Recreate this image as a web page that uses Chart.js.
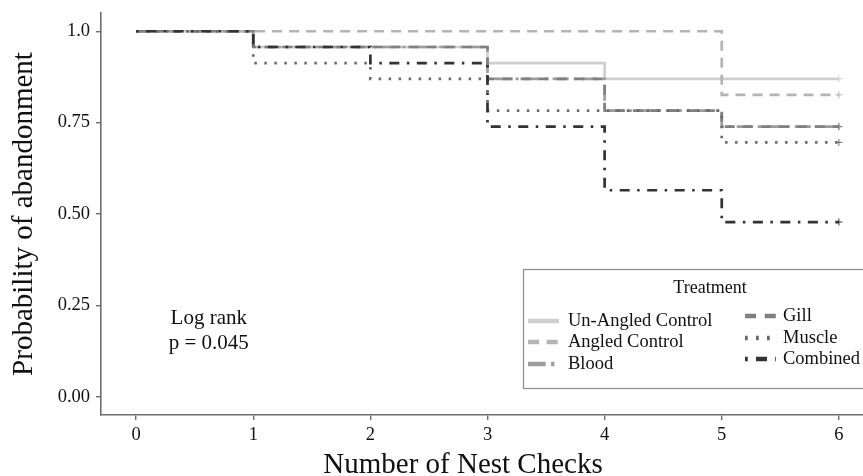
<!DOCTYPE html>
<html>
<head>
<meta charset="utf-8">
<script src="https://cdn.jsdelivr.net/npm/chart.js@4/dist/chart.umd.min.js"></script>
<style>
  html, body { margin:0; padding:0; background:#fff; }
  #wrap { width:863px; height:476px; overflow:hidden; position:relative; }
  canvas { display:block; }
</style>
</head>
<body>
<div id="wrap"><canvas id="km" width="880" height="476"></canvas></div>
<script>
// nest checks (x) and survival estimates per treatment
const checks = [0, 1, 2, 3, 4, 5, 6];
const unAngled = [1, 0.957, 0.957, 0.913, 0.870, 0.870, 0.870];
const angled   = [1, 1, 1, 1, 1, 0.826, 0.826];
const blood    = [1, 0.957, 0.957, 0.870, 0.783, 0.739, 0.739];
const gill     = [1, 0.957, 0.957, 0.870, 0.783, 0.739, 0.739];
const muscle   = [1, 0.913, 0.870, 0.783, 0.783, 0.696, 0.696];
const combined = [1, 0.957, 0.913, 0.739, 0.565, 0.478, 0.478];

const treatments = ["Un-Angled Control", "Angled Control", "Blood", "Gill", "Muscle", "Combined"];
const seriesVals = [unAngled, angled, blood, gill, muscle, combined];

const yTicks = [0, 0.25, 0.5, 0.75, 1];
const yLabels = ["0.00", "0.25", "0.50", "0.75", "1.0"];
const xTicks = [0, 1, 2, 3, 4, 5, 6];
const xTitle = "Number of Nest Checks";

// styles
const colors = ["#cfcfcf", "#b4b4b4", "#9c9c9c", "#808080", "#6a6a6a", "#333333"];
const dashes = [[], [10, 7], [16, 5, 3, 5], [10, 8], [2.5, 7.5], [2.5, 7.5, 10, 7.5]];
const serif = "'Liberation Serif', 'DejaVu Serif', serif";

const datasets = seriesVals.map((vals, i) => ({
  label: treatments[i],
  data: vals.map((v, j) => ({ x: checks[j], y: v })),
  stepped: "before",
  borderColor: colors[i],
  backgroundColor: colors[i],
  borderDash: dashes[i],
  borderWidth: 2.7,
  borderCapStyle: "butt",
  fill: false,
  pointStyle: "cross",
  pointRadius: vals.map((_, j) => j === vals.length - 1 ? 3.5 : 0),
  pointBorderWidth: 1,
  pointBorderColor: colors[i],
  pointHoverRadius: 0,
  order: seriesVals.length - i
}));

// text annotation, x title and legend, drawn on top
const annotate = {
  id: "annotate",
  afterDraw(chart) {
    const { ctx, scales } = chart;
    ctx.save();
    ctx.fillStyle = "#111";
    ctx.font = "21px " + serif;
    ctx.textAlign = "center";
    ctx.textBaseline = "middle";
    const ax = scales.x.getPixelForValue(0.62);
    ctx.fillText("Log rank", ax, scales.y.getPixelForValue(0.213));
    ctx.fillText("p = 0.045", ax, scales.y.getPixelForValue(0.147));

    ctx.font = "29px " + serif;
    ctx.fillText(xTitle, 463, 465);

    // legend box
    const bx = 523, by = 269, bw = 360, bh = 119;
    ctx.fillStyle = "#fff";
    ctx.fillRect(bx, by, bw, bh);
    ctx.strokeStyle = "#8c8c8c";
    ctx.lineWidth = 1.2;
    ctx.strokeRect(bx + 0.5, by + 0.5, bw, bh);
    ctx.fillStyle = "#111";
    ctx.font = "18px " + serif;
    ctx.fillText("Treatment", 710, 288);

    const cols = [{ kx: 528, tx: 568, ys: [321, 342, 364] }, { kx: 745, tx: 783, ys: [316, 338, 359] }];
    chart.data.datasets.forEach((ds, i) => {
      const c = cols[Math.floor(i / 3)];
      const y = c.ys[i % 3];
      ctx.beginPath();
      ctx.setLineDash(ds.borderDash.map(d => d * 1.1));
      ctx.lineCap = "butt";
      ctx.lineWidth = 4.5;
      ctx.strokeStyle = ds.borderColor;
      ctx.moveTo(c.kx, y);
      ctx.lineTo(c.kx + 31, y);
      ctx.stroke();
      ctx.setLineDash([]);
      ctx.textAlign = "left";
      ctx.fillStyle = "#111";
      ctx.font = "18.5px " + serif;
      ctx.fillText(ds.label, c.tx, y);
    });
    ctx.restore();
  }
};

new Chart(document.getElementById("km"), {
  type: "line",
  data: { datasets },
  plugins: [annotate],
  options: {
    responsive: false,
    animation: false,
    layout: { autoPadding: false, padding: { top: 13, right: 6, left: 0, bottom: 0 } },
    plugins: { legend: { display: false }, tooltip: { enabled: false } },
    scales: {
      x: {
        type: "linear",
        min: -0.3,
        max: 6.3,
        afterBuildTicks: s => { s.ticks = xTicks.map(v => ({ value: v })); },
        afterFit: s => { s.height = 61; s.paddingLeft = 0; s.paddingRight = 0; },
        grid: { drawOnChartArea: false, drawTicks: true, tickLength: 5, color: "#6e6e6e", lineWidth: 1.4 },
        border: { display: true, color: "#6e6e6e", width: 1.6 },
        ticks: { color: "#111", font: { family: serif, size: 18.5 }, padding: 4, maxRotation: 0,
                 callback: v => String(v) },
        title: { display: false }
      },
      y: {
        type: "linear",
        min: -0.05,
        max: 1.05,
        afterBuildTicks: s => { s.ticks = yTicks.map(v => ({ value: v })); },
        afterFit: s => { s.width = 101; s.paddingTop = 0; s.paddingBottom = 0; },
        grid: { drawOnChartArea: false, drawTicks: true, tickLength: 5, color: "#6e6e6e", lineWidth: 1.4 },
        border: { display: true, color: "#6e6e6e", width: 1.6 },
        ticks: { color: "#111", font: { family: serif, size: 18.5 }, padding: 6,
                 callback: v => yLabels[yTicks.indexOf(v)] },
        title: { display: true, text: "Probability of abandonment", color: "#111",
                 font: { family: serif, size: 29, lineHeight: 1 }, padding: { top: 10, bottom: 0 } }
      }
    }
  }
});
</script>
</body>
</html>
